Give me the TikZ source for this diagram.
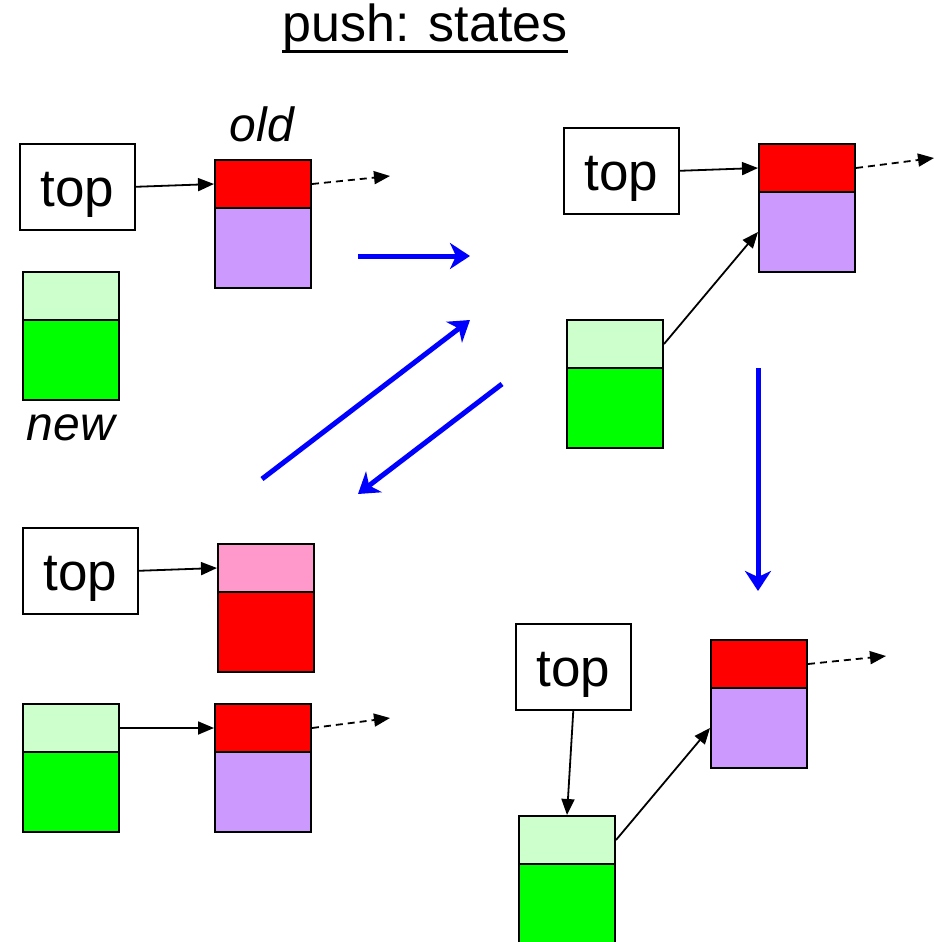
\documentclass[tikz,border=0pt]{standalone}
\usepackage{fontspec}
\setmainfont{Liberation Sans}
\usetikzlibrary{arrows.meta}
\definecolor{cred}{HTML}{FF0000}
\definecolor{cpurple}{HTML}{CC99FF}
\definecolor{clgreen}{HTML}{CCFFCC}
\definecolor{cgreen}{HTML}{00FF00}
\definecolor{cpink}{HTML}{FF99CC}
\definecolor{cblue}{HTML}{0000FF}
\tikzset{
  cell/.style={draw=black, line width=2pt, minimum width=96pt, inner sep=0pt, anchor=north west},
  smallcell/.style={cell, minimum height=48pt},
  bigcell/.style={cell, minimum height=80pt},
  topbox/.style={draw=black, line width=1.6pt, minimum width=115pt, minimum height=86pt, inner sep=0pt, anchor=north west, font=\fontsize{53}{60}\selectfont, text height=40pt, text depth=0pt},
  lbl/.style={font=\fontsize{48}{58}\selectfont\itshape, inner sep=0pt},
  ptr/.style={draw=black, line width=1.8pt, -{Triangle[length=16pt,width=13pt]}},
  dptr/.style={ptr, dash pattern=on 7pt off 5pt},
  bigarrow/.style={draw=cblue, line width=5pt, -{Stealth[length=20pt,width=26pt,inset=6pt]}},
}
\begin{document}
\begin{tikzpicture}[x=1pt,y=-1pt]
\useasboundingbox (0,0) rectangle (934,942);

% title
\node[font=\fontsize{52}{60}\selectfont, inner sep=0pt, anchor=base] (title) at (425,42) {push: states};
\coordinate (ul1) at (282,52);
\coordinate (ul2) at (568,52);
\draw[line width=3pt] (ul1) -- (ul2);

% ---------- state 1 (top left)
\node[topbox] (t1) at (19,143) {top};
\node[smallcell, fill=cred] (a1) at (214,159) {};
\node[bigcell, fill=cpurple] (b1) at (214,207) {};
\node[lbl] (old) at (262,124) {old};
\coordinate (d1) at (390,176);
\draw[ptr] (t1.east) -- (a1.west);
\draw[dptr] (a1.east) -- (d1);
\node[smallcell, fill=clgreen] (n1) at (22,271) {};
\node[bigcell, fill=cgreen] (g1) at (22,319) {};
\node[lbl] (new) at (71,428) {new};

% ---------- state 2 (top right)
\node[topbox] (t2) at (563,127) {top};
\node[smallcell, fill=cred] (a2) at (758,143) {};
\node[bigcell, fill=cpurple] (b2) at (758,191) {};
\coordinate (d2) at (934,158);
\draw[ptr] (t2.east) -- (a2.west);
\draw[dptr] (a2.east) -- (d2);
\node[smallcell, fill=clgreen] (n2) at (566,319) {};
\node[bigcell, fill=cgreen] (g2) at (566,367) {};
\draw[ptr] (n2.east) -- (b2.west);

% ---------- state 3 (bottom left)
\node[topbox] (t3) at (22,527) {top};
\node[smallcell, fill=cpink] (p3) at (217,543) {};
\node[bigcell, fill=cred] (r3) at (217,591) {};
\draw[ptr] (t3.east) -- (p3.west);
\node[smallcell, fill=clgreen] (n3) at (22,703) {};
\node[bigcell, fill=cgreen] (g3) at (22,751) {};
\node[smallcell, fill=cred] (a3) at (214,703) {};
\node[bigcell, fill=cpurple] (b3) at (214,751) {};
\coordinate (d3) at (390,718);
\draw[ptr] (n3.east) -- (a3.west);
\draw[dptr] (a3.east) -- (d3);

% ---------- state 4 (bottom right)
\node[topbox] (t4) at (515,623) {top};
\node[smallcell, fill=cred] (a4) at (710,639) {};
\node[bigcell, fill=cpurple] (b4) at (710,687) {};
\coordinate (d4) at (886,656);
\draw[dptr] (a4.east) -- (d4);
\node[smallcell, fill=clgreen] (n4) at (518,815) {};
\node[bigcell, fill=cgreen] (g4) at (518,863) {};
\draw[ptr] (t4.south) -- (n4.north);
\draw[ptr] (n4.east) -- (b4.west);

% ---------- blue transition arrows
\coordinate (h1) at (358,256);
\coordinate (h2) at (470,256);
\coordinate (u1) at (262,479);
\coordinate (u2) at (470,320);
\coordinate (w1) at (502,384);
\coordinate (w2) at (358,494);
\coordinate (v1) at (758,368);
\coordinate (v2) at (758,591);
\draw[bigarrow] (h1) -- (h2);
\draw[bigarrow] (u1) -- (u2);
\draw[bigarrow] (w1) -- (w2);
\draw[bigarrow] (v1) -- (v2);
\end{tikzpicture}
\end{document}
